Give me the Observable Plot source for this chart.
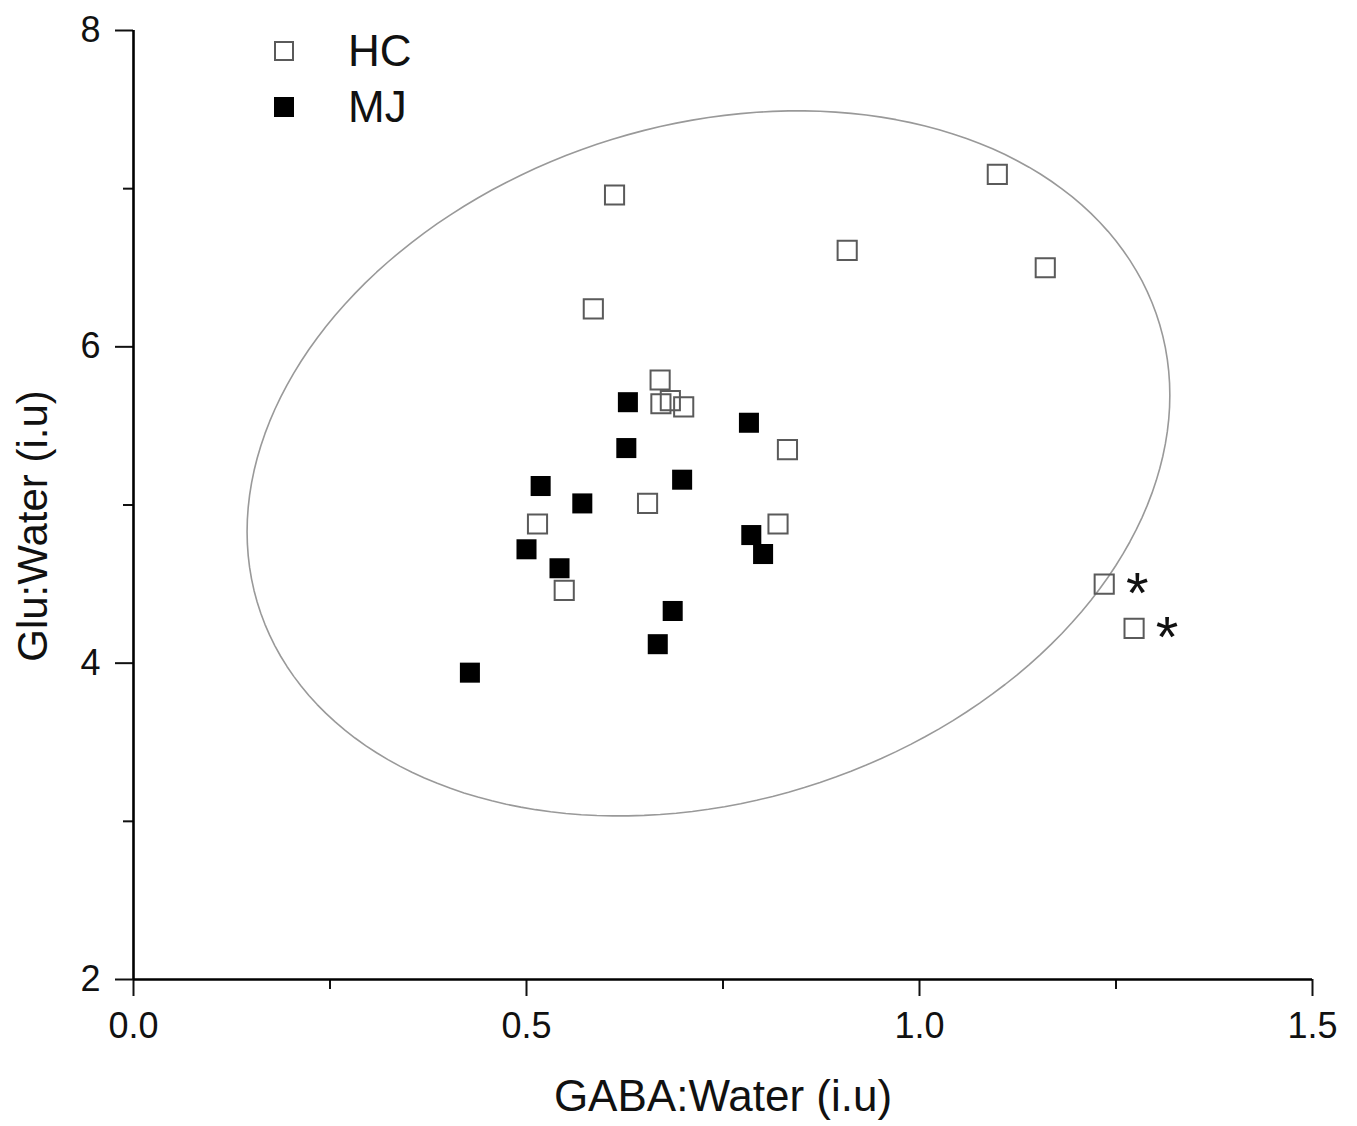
<!DOCTYPE html>
<html>
<head>
<meta charset="utf-8">
<script src="https://cdn.jsdelivr.net/npm/d3@7"></script>
<script src="https://cdn.jsdelivr.net/npm/@observablehq/plot@0.6"></script>
<style>
  html, body { margin: 0; padding: 0; background: #fff; }
  body { font-family: "Liberation Sans", Arial, sans-serif; }
  #wrap { position: relative; width: 1357px; height: 1126px; }
  #legend { position: absolute; left: 274px; top: 23px; }
  #legend .row { display: flex; align-items: center; height: 56px; font-size: 44px; line-height: 1; color: #111; }
  #legend .sw { width: 20px; height: 20px; box-sizing: border-box; margin-right: 54px; }
  #legend .sw.open { border: 2px solid #5a5a5a; background: #fff; }
  #legend .sw.filled { background: #000; }
</style>
</head>
<body>
<div id="wrap"><div id="legend"></div></div>
<script>
// ---- Data ----
const groups = ["HC", "MJ"];

// Healthy controls (open squares)
const hcGABA = [0.612, 1.099, 0.908, 1.160, 0.585, 0.670, 0.671, 0.683, 0.700, 0.832, 0.654, 0.514, 0.820, 0.548, 1.235, 1.273];
const hcGlu  = [6.96,  7.09,  6.61,  6.50,  6.24,  5.79,  5.64,  5.66,  5.62,  5.35,  5.01,  4.88,  4.88,  4.46,  4.50,  4.22];
const hcFlagged = [false, false, false, false, false, false, false, false, false, false, false, false, false, false, true, true];

// Marijuana users (filled squares)
const mjGABA = [0.629, 0.783, 0.627, 0.698, 0.518, 0.571, 0.786, 0.801, 0.500, 0.542, 0.686, 0.667, 0.428];
const mjGlu  = [5.65,  5.52,  5.36,  5.16,  5.12,  5.01,  4.81,  4.69,  4.72,  4.60,  4.33,  4.12,  3.94];

// Confidence ellipse (data units)
const ellipseCenter = [0.7315, 5.263];
const ellipseRadius = [0.587, 2.229];
const ellipsePhase = 1.376;

// Axes
const xTicks = [0, 0.5, 1.0, 1.5];
const xMinorTicks = [0.25, 0.75, 1.25];
const yTicks = [2, 4, 6, 8];
const yMinorTicks = [3, 5, 7];
const xLabel = "GABA:Water (i.u)";
const yLabel = "Glu:Water (i.u)";

// ---- Build tables ----
const hc = hcGABA.map((g, i) => ({gaba: g, glu: hcGlu[i], flagged: hcFlagged[i]}));
const mj = mjGABA.map((g, i) => ({gaba: g, glu: mjGlu[i]}));
const ellipse = d3.range(0, 361, 2).map(deg => {
  const t = deg * Math.PI / 180;
  return {
    gaba: ellipseCenter[0] + ellipseRadius[0] * Math.cos(t),
    glu: ellipseCenter[1] + ellipseRadius[1] * Math.cos(t - ellipsePhase)
  };
});

const font = "Liberation Sans, Arial, sans-serif";

const chart = Plot.plot({
  width: 1357,
  height: 1126,
  marginLeft: 133,
  marginRight: 45,
  marginTop: 30,
  marginBottom: 147,
  style: {fontFamily: font, background: "white", color: "#111", overflow: "visible"},
  x: {domain: [0, 1.5]},
  y: {domain: [2, 8]},
  marks: [
    Plot.line(ellipse, {x: "gaba", y: "glu", stroke: "#999", strokeWidth: 1.6}),
    Plot.dot(mj, {x: "gaba", y: "glu", symbol: "square", r: 11.3, fill: "#000", stroke: "none"}),
    Plot.dot(hc, {x: "gaba", y: "glu", symbol: "square", r: 10.8, fill: "none", stroke: "#5a5a5a", strokeWidth: 2}),
    Plot.text(hc.filter(d => d.flagged), {x: "gaba", y: "glu", text: () => "*", dx: 33, dy: 10, fontSize: 58, fill: "#111"}),
    Plot.axisX(xMinorTicks, {tickSize: 10, text: null, strokeWidth: 2, label: null}),
    Plot.axisX(xTicks, {tickSize: 17, tickPadding: 16, fontSize: 36, tickFormat: d => d.toFixed(1), strokeWidth: 2, label: null}),
    Plot.axisY(yMinorTicks, {tickSize: 10, text: null, strokeWidth: 2, label: null}),
    Plot.axisY(yTicks, {tickSize: 18, tickPadding: 15, fontSize: 36, tickFormat: d => String(d), strokeWidth: 2, label: null}),
    Plot.ruleY([2], {stroke: "#000", strokeWidth: 2.6}),
    Plot.ruleX([0], {stroke: "#000", strokeWidth: 2.6}),
    Plot.text([xLabel], {text: d => d, frameAnchor: "bottom", dy: 131, fontSize: 44, fill: "#111"}),
    Plot.text([yLabel], {text: d => d, frameAnchor: "left", textAnchor: "middle", dx: -100, dy: 21, rotate: -90, fontSize: 42, fill: "#111"})
  ]
});

const wrap = document.getElementById("wrap");
wrap.insertBefore(chart, wrap.firstChild);

const legend = d3.select("#legend");
groups.forEach((g, i) => {
  const row = legend.append("div").attr("class", "row");
  row.append("span").attr("class", "sw " + (i === 0 ? "open" : "filled"));
  row.append("span").text(g);
});
</script>
</body>
</html>
